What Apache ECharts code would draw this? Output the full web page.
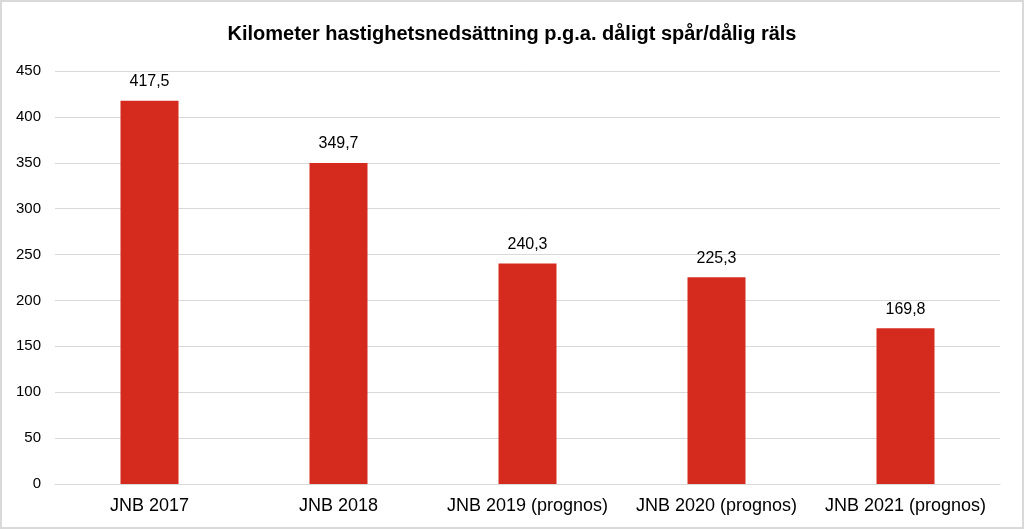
<!DOCTYPE html>
<html><head><meta charset="utf-8">
<script src="https://cdn.jsdelivr.net/npm/echarts@6/dist/echarts.min.js"></script>
<style>html,body{margin:0;padding:0;background:#fff}#c{width:1024px;height:529px;box-sizing:border-box;border:2px solid #d9d9d9}</style>
</head><body><div id="c"></div>
<script>
const categories = ["JNB 2017", "JNB 2018", "JNB 2019 (prognos)", "JNB 2020 (prognos)", "JNB 2021 (prognos)"];
const values = [417.5, 349.7, 240.3, 225.3, 169.8];
const titleText = "Kilometer hastighetsnedsättning p.g.a. dåligt spår/dålig räls";

const F = 'Liberation Sans, Arial, sans-serif';
const chart = echarts.init(document.getElementById('c'), null, {renderer: 'canvas'});
chart.setOption({
  animation: false,
  backgroundColor: '#fff',
  title: {text: titleText, left: 'center', top: 17,
    textStyle: {fontFamily: F, fontSize: 20, fontWeight: 'bold', color: '#000'}},
  grid: {left: 53, right: 22, top: 69, bottom: 43},
  xAxis: {type: 'category', data: categories,
    axisLine: {lineStyle: {color: '#d9d9d9', width: 1}}, axisTick: {show: false},
    axisLabel: {color: '#000', fontSize: 18, fontFamily: F, margin: 13, interval: 0, hideOverlap: false}},
  yAxis: {type: 'value', min: 0, max: 450, interval: 50,
    axisLine: {show: false}, axisTick: {show: false},
    splitLine: {lineStyle: {color: '#d9d9d9', width: 1}},
    axisLabel: {color: '#000', fontSize: 15, fontFamily: F, margin: 14}},
  series: [{type: 'bar', data: values, barWidth: 58,
    itemStyle: {color: '#D52B1E'},
    label: {show: true, position: 'top', distance: 11, color: '#000', fontSize: 16,
      fontFamily: F,
      formatter: p => String(p.value).replace('.', ',')}}]
});
</script></body></html>
